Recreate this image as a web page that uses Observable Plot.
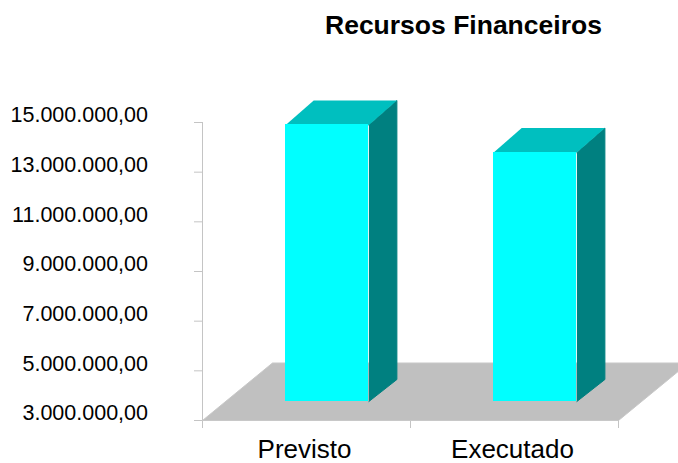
<!DOCTYPE html>
<html><head><meta charset="utf-8">
<script src="https://cdn.jsdelivr.net/npm/d3@7"></script>
<script src="https://cdn.jsdelivr.net/npm/@observablehq/plot@0.6"></script>
<style>
html,body{margin:0;padding:0;background:#fff;overflow:hidden}
#t{position:absolute;left:325px;top:10px;font:bold 26.5px "Liberation Sans",Arial,sans-serif;color:#000;white-space:nowrap;line-height:30px}
#c{position:absolute;left:0;top:50px}
svg{display:block}
</style></head><body>
<div id="t"></div><div id="c"></div>
<script>
const title = "Recursos Financeiros";
const categories = ["Previsto", "Executado"];
const values = [14900000, 13790000];
const yTicks = [3000000, 5000000, 7000000, 9000000, 11000000, 13000000, 15000000];
const xEdges = [0, 1, 2];

// 3D extrusion expressed in data units (x = category slots, y = currency)
const barStart = 0.4, barWidth = 0.4, depthX = 0.1346;
const barBase = 3765000, depthBase = 886000, depthTop = 987000;
const floorDepthX = 0.3365, floorDepthY = 2316000, yMin = 3000000;

const fmt = d3.formatLocale({decimal: ",", thousands: ".", grouping: [3], currency: ["", ""]}).format(",.2f");

const bars = categories.map((name, i) => ({
  name, value: values[i], x1: i + barStart, x2: i + barStart + barWidth
}));
const poly = (f) => bars.flatMap((b, i) => f(b).map(([x, y]) => ({x, y, id: i})));
const topFaces = poly(b => [[b.x1, b.value], [b.x2, b.value], [b.x2 + depthX, b.value + depthTop], [b.x1 + depthX, b.value + depthTop]]);
const sideFaces = poly(b => [[b.x2, b.value], [b.x2 + depthX, b.value + depthTop], [b.x2 + depthX, barBase + depthBase], [b.x2, barBase]]);
const floor = [[0, yMin], [2, yMin], [2 + floorDepthX, yMin + floorDepthY], [floorDepthX, yMin + floorDepthY], [0, yMin]].map(([x, y]) => ({x, y}));

document.getElementById("t").textContent = title;
const font = '"Liberation Sans",Arial,sans-serif';
const plot = Plot.plot({
  width: 678, height: 411,
  marginLeft: 202, marginRight: 60, marginTop: 72, marginBottom: 41,
  style: {fontFamily: font, background: "#fff", overflow: "visible"},
  x: {type: "linear", domain: [0, 2], axis: null},
  y: {type: "linear", domain: [yMin, 15000000], axis: null},
  marks: [
    Plot.ruleX([0], {y1: yMin, y2: 15000000, stroke: "#c4c4c4", strokeWidth: 1}),
    Plot.axisY({ticks: yTicks, tickSize: 8, tickFormat: () => "", stroke: "#c4c4c4", strokeOpacity: 1, label: null}),
    Plot.axisY({ticks: yTicks, tickSize: 0, tickPadding: 54.5, dy: -7, color: "#000", fontSize: 21.5, tickFormat: fmt, label: null}),
    Plot.axisX({ticks: xEdges, tickSize: 8, tickFormat: () => "", stroke: "#c4c4c4", strokeOpacity: 1, label: null}),
    Plot.axisX({ticks: [0.5, 1.5], tickSize: 0, tickPadding: 19, dx: -2, tickFormat: d => categories[Math.floor(d)], color: "#000", fontSize: 26, label: null}),
    Plot.line(floor, {x: "x", y: "y", fill: "#c0c0c0", stroke: "#c8c8c8", strokeWidth: 1}),
    Plot.line(sideFaces, {x: "x", y: "y", z: "id", fill: "#008080", stroke: "#008080", strokeWidth: 1}),
    Plot.line(topFaces, {x: "x", y: "y", z: "id", fill: "#00bfbf", stroke: "none"}),
    Plot.rect(bars, {x1: "x1", x2: "x2", y1: barBase, y2: "value", fill: "#00ffff", shapeRendering: "crispEdges"})
  ]
});
document.getElementById("c").appendChild(plot);
</script></body></html>
